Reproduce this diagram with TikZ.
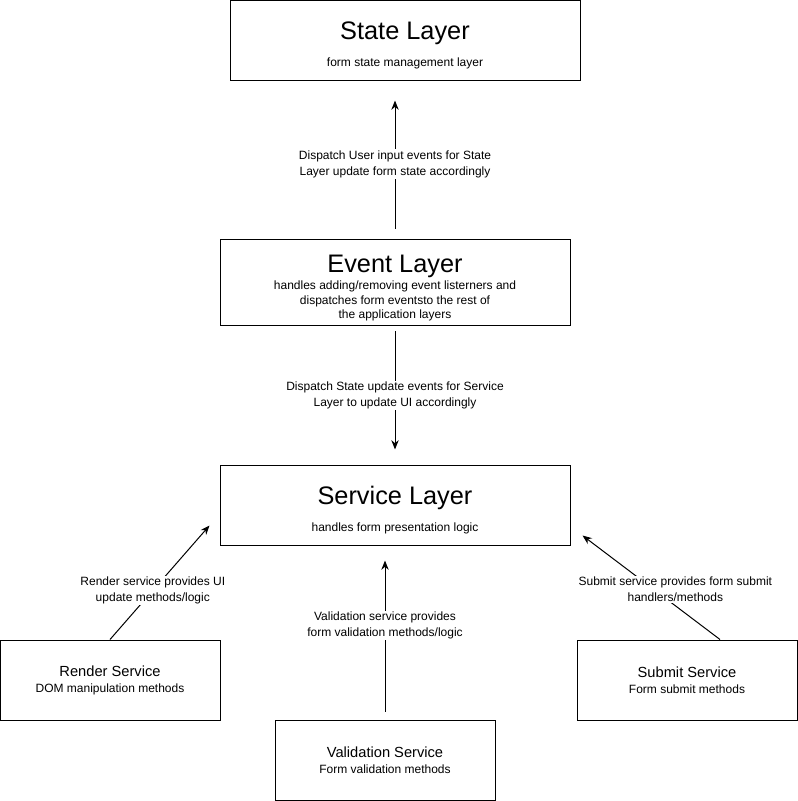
\documentclass[tikz,border=0pt]{standalone}
\usepackage{fontspec}
\setmainfont{Liberation Sans}
\usetikzlibrary{arrows.meta}

\newcommand{\bigtitle}[1]{{\fontsize{19}{22}\selectfont\rule{0pt}{21.5pt}#1}}
\newcommand{\smalltitle}[1]{{\fontsize{11}{13}\selectfont #1}}

\begin{document}
\begin{tikzpicture}[x=0.75pt, y=-0.75pt, line width=0.75pt,
	layer/.style={draw, minimum width=262.5pt, minimum height=60pt, align=center, font=\fontsize{9}{11}\selectfont},
	service/.style={draw, minimum width=165pt, minimum height=60pt, align=center, font=\fontsize{9}{11}\selectfont},
	flow/.style={-{Stealth[length=7pt, width=5.5pt]}},
	note/.style={fill=white, align=center, inner sep=1pt, font=\fontsize{9}{12}\selectfont}]
	\useasboundingbox (0,0) rectangle (798,801);
	
	% Nodes - Layers
	\node[layer] (state) at (405,40) {\bigtitle{State Layer}\\[9pt] form state management layer};
	\node[layer, minimum height=63.75pt] (event) at (395,282.5) {\bigtitle{Event Layer}\\[2pt] handles adding/removing event listerners and\\ dispatches form eventsto the rest of\\ the application layers};
	\node[layer] (service) at (395,505) {\bigtitle{Service Layer}\\[9pt] handles form presentation logic};
	
	% Nodes - Services
	\node[service] (render) at (110,680) {\smalltitle{Render Service}\\[1pt] DOM manipulation methods};
	\node[service] (validation) at (385,760) {\smalltitle{Validation Service}\\[1pt] Form validation methods};
	\node[service] (submit) at (687,680) {\smalltitle{Submit Service}\\[1pt] Form submit methods};
	
	% Edges
	\draw[flow, shorten <=7.5pt, shorten >=15pt] (event.north) -- (event.north |- state.south) node[note, pos=0.47] {Dispatch User input events for State\\ Layer update form state accordingly};
	\draw[flow, shorten <=3.75pt, shorten >=11.25pt] (event.south) -- (service.north) node[note, midway] {Dispatch State update events for Service\\ Layer to update UI accordingly};
	\draw[flow] (render.north) -- ([shift={(-10,-20)}]service.south west) node[note, pos=0.43] {Render service provides UI\\ update methods/logic};
	\draw[flow, shorten <=6pt, shorten >=11.25pt] (validation.north) -- (validation.north |- service.south) node[note, pos=0.54] {Validation service provides\\ form validation methods/logic};
	\draw[flow] ([xshift=24.75pt]submit.north) -- ([shift={(12,-10)}]service.south east) node[note, pos=0.48, xshift=16pt] {Submit service provides form submit\\ handlers/methods};
\end{tikzpicture}
\end{document}
